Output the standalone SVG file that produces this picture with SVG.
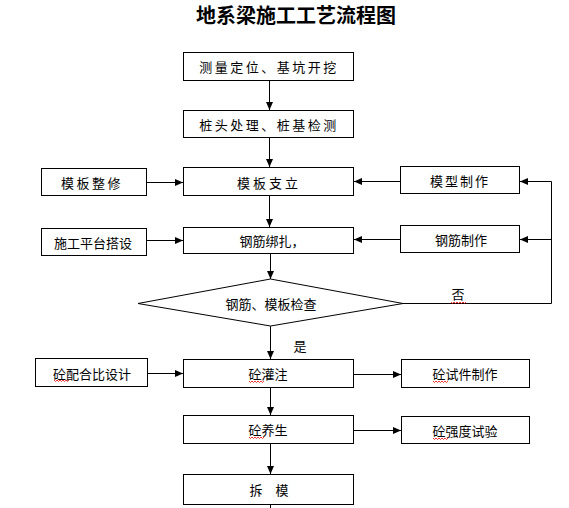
<svg xmlns="http://www.w3.org/2000/svg" width="569" height="508" viewBox="0 0 569 508">
<style>
.box{fill:#fff;stroke:#000;stroke-width:1}
.t{font-family:"Noto Sans CJK SC","Liberation Serif",sans-serif;font-size:13px;fill:#000;text-anchor:middle;dominant-baseline:central}
.sp{letter-spacing:2.5px}
.c{fill:none;stroke:#000;stroke-width:1}
.sq{fill:none;stroke:#e00;stroke-width:0.8}
.title{font-family:"Noto Sans CJK SC","Liberation Sans",sans-serif;font-size:20px;font-weight:bold;fill:#000;text-anchor:middle;dominant-baseline:central}
</style>
<defs>
<marker id="ah" markerUnits="userSpaceOnUse" markerWidth="9" markerHeight="8" refX="8" refY="3.5" orient="auto">
<path d="M0,0 L8,3.5 L0,7 z" fill="#000"/>
</marker>
</defs>
<text class="title" x="296" y="14">地系梁施工工艺流程图</text>

<g id="connectors">
<line class="c" x1="269.5" y1="81" x2="269.5" y2="110" marker-end="url(#ah)"/>
<line class="c" x1="269.5" y1="138" x2="269.5" y2="167" marker-end="url(#ah)"/>
<line class="c" x1="269.5" y1="196" x2="269.5" y2="227" marker-end="url(#ah)"/>
<line class="c" x1="270.5" y1="254" x2="270.5" y2="279" marker-end="url(#ah)"/>
<line class="c" x1="270.5" y1="326" x2="270.5" y2="359" marker-end="url(#ah)"/>
<line class="c" x1="270.5" y1="388" x2="270.5" y2="415" marker-end="url(#ah)"/>
<line class="c" x1="270.5" y1="444" x2="270.5" y2="474" marker-end="url(#ah)"/>
<line class="c" x1="270.5" y1="505" x2="270.5" y2="508"/>
<line class="c" x1="147" y1="182.5" x2="183" y2="182.5" marker-end="url(#ah)"/>
<line class="c" x1="400" y1="181.5" x2="354" y2="181.5" marker-end="url(#ah)"/>
<line class="c" x1="147" y1="240.5" x2="183" y2="240.5" marker-end="url(#ah)"/>
<line class="c" x1="400" y1="239.5" x2="354" y2="239.5" marker-end="url(#ah)"/>
<polyline class="c" points="403,303.5 551.5,303.5 551.5,181.5"/>
<line class="c" x1="551.5" y1="181.5" x2="520" y2="181.5" marker-end="url(#ah)"/>
<line class="c" x1="551.5" y1="239.5" x2="520" y2="239.5" marker-end="url(#ah)"/>
<line class="c" x1="148" y1="373.5" x2="183" y2="373.5" marker-end="url(#ah)"/>
<line class="c" x1="354" y1="374.5" x2="401" y2="374.5" marker-end="url(#ah)"/>
<line class="c" x1="354" y1="430.5" x2="401" y2="430.5" marker-end="url(#ah)"/>
</g>

<g id="n1"><rect class="box" x="183.5" y="52.5" width="170" height="28"/><text class="t sp" x="269" y="66.5">测量定位、基坑开挖</text></g>
<g id="n2"><rect class="box" x="183.5" y="110.5" width="170" height="27"/><text class="t sp" x="269" y="124">桩头处理、桩基检测</text></g>
<g id="n3"><rect class="box" x="41.5" y="168.5" width="105" height="27"/><text class="t sp" x="92" y="182">模板整修</text></g>
<g id="n4"><rect class="box" x="183.5" y="167.5" width="170" height="28"/><text class="t" style="letter-spacing:3px" x="269" y="182">模板支立</text></g>
<g id="n5"><rect class="box" x="400.5" y="166.5" width="119" height="27"/><text class="t" style="letter-spacing:2px" x="460" y="180.5">模型制作</text></g>
<g id="n6"><rect class="box" x="41.5" y="228.5" width="105" height="27"/><text class="t" x="93" y="242">施工平台搭设</text></g>
<g id="n7"><rect class="box" x="183.5" y="227.5" width="170" height="26"/><text class="t" x="272" y="240.5">钢筋绑扎，</text></g>
<g id="n8"><rect class="box" x="400.5" y="225.5" width="119" height="27"/><text class="t" x="461" y="239">钢筋制作</text></g>
<g id="n9"><polygon class="box" points="138,303.5 270.5,279 403,303.5 270.5,326"/><text class="t" x="271" y="303">钢筋、模板检查</text></g>
<g id="n10"><rect class="box" x="35.5" y="358.5" width="112" height="28"/><text class="t" x="92" y="373">砼配合比设计</text><path class="sq" d="M54,380 l1.5,1.5 1.5,-1.5 1.5,1.5 1.5,-1.5 1.5,1.5 1.5,-1.5 1.5,1.5 1.5,-1.5 1.5,1.5 1.5,-1.5"/></g>
<g id="n11"><rect class="box" x="183.5" y="359.5" width="170" height="28"/><text class="t" x="268" y="373.5">砼灌注</text><path class="sq" d="M249,381 l1.5,1.5 1.5,-1.5 1.5,1.5 1.5,-1.5 1.5,1.5 1.5,-1.5 1.5,1.5 1.5,-1.5 1.5,1.5 1.5,-1.5"/></g>
<g id="n12"><rect class="box" x="401.5" y="359.5" width="128" height="28"/><text class="t" x="465" y="373.5">砼试件制作</text><path class="sq" d="M433,381 l1.5,1.5 1.5,-1.5 1.5,1.5 1.5,-1.5 1.5,1.5 1.5,-1.5 1.5,1.5 1.5,-1.5 1.5,1.5 1.5,-1.5"/></g>
<g id="n13"><rect class="box" x="183.5" y="415.5" width="170" height="28"/><text class="t" x="268" y="429.5">砼养生</text><path class="sq" d="M249,437 l1.5,1.5 1.5,-1.5 1.5,1.5 1.5,-1.5 1.5,1.5 1.5,-1.5 1.5,1.5 1.5,-1.5 1.5,1.5 1.5,-1.5"/></g>
<g id="n14"><rect class="box" x="401.5" y="416.5" width="128" height="27"/><text class="t" x="465" y="430">砼强度试验</text><path class="sq" d="M433,438 l1.5,1.5 1.5,-1.5 1.5,1.5 1.5,-1.5 1.5,1.5 1.5,-1.5 1.5,1.5 1.5,-1.5 1.5,1.5 1.5,-1.5"/></g>
<g id="n15"><rect class="box" x="183.5" y="474.5" width="170" height="30"/><text class="t" x="269" y="489.5">拆　模</text></g>

<g id="labels">
<text class="t" x="458" y="293">否</text><path class="sq" d="M451,302 l1.5,1.5 1.5,-1.5 1.5,1.5 1.5,-1.5 1.5,1.5 1.5,-1.5 1.5,1.5 1.5,-1.5 1.5,1.5 1.5,-1.5"/>
<text class="t" x="300" y="345">是</text>
</g>
</svg>
